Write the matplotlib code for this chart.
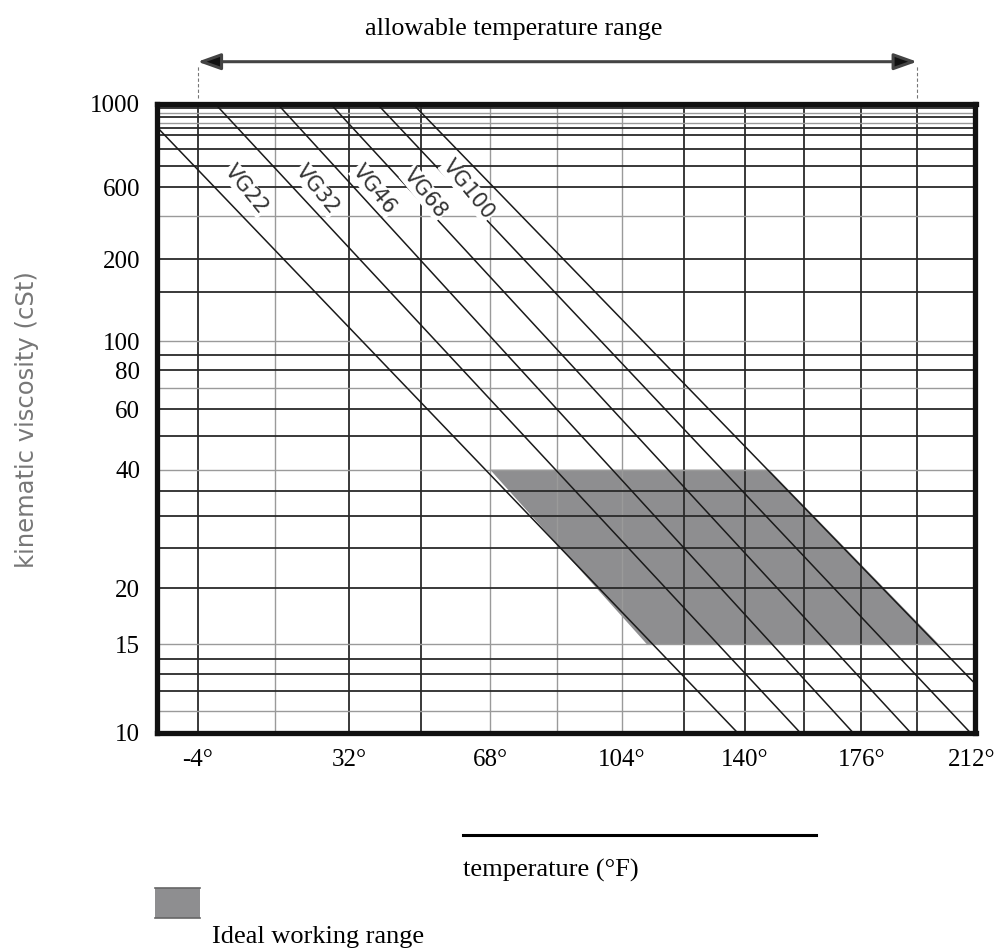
import numpy as np
import matplotlib
matplotlib.use("Agg")
import matplotlib.pyplot as plt
from matplotlib.transforms import blended_transform_factory
from matplotlib.lines import Line2D
from matplotlib.patches import Rectangle

# ---------------- data ----------------
temp_grid_c = [-20, -10, 0, 10, 20, 30, 40, 50, 60, 70, 80, 90]
temp_grid_light = [-10, 20, 30, 40]
visc_grid = [11, 12, 13, 14, 15, 20, 25, 30, 35, 40, 50, 60, 70, 80, 90, 100,
             150, 200, 300, 400, 500, 600, 700, 750, 800, 850, 900, 950]
visc_grid_light = [11, 15, 40, 70, 100, 300, 900, 800]

xtick_c = [-20, 0, 20, 40, 60, 80, 100]
xtick_labels = ["-4°", "32°", "68°", "104°", "140°", "176°", "212°"]
ytick_vals = [10, 15, 20, 40, 60, 80, 100, 200, 400, 1000]
ytick_labels = ["10", "15", "20", "40", "60", "80", "100", "200", "600", "1000"]

# viscosity lines: temperature (°C) where each line reaches 1000 cSt and 10 cSt
line_t_at_1000 = [-27.9, -17.8, -9.7, -2.6, 3.8, 8.8]
line_t_at_10 = [58.7, 69.3, 78.5, 88.8, 99.8, 109.7]

vg_names = ["VG22", "VG32", "VG46", "VG68", "VG100"]
vg_label_t = [-13.7, -4.3, 3.5, 10.6, 16.8]
vg_label_v = [390, 390, 390, 377, 390]

# ideal working range (°C, cSt)
ideal_t = [20, 64, 94, 44]
ideal_v = [40, 40, 15, 15]

allow_range_c = [-20, 90]

# ---------------- scales ----------------
def fx(t):
    return np.log10(np.clip(np.asarray(t, dtype=float) + 273.15, 1e-6, None))

def ix(u):
    return 10 ** np.asarray(u, dtype=float) - 273.15

def fy(v):
    a = np.clip(np.asarray(v, dtype=float) + 0.7, 1.0001, None)
    return np.log10(np.log10(a))

def iy(w):
    return 10 ** (10 ** np.asarray(w, dtype=float)) - 0.7

W, H = 995, 948
fig = plt.figure(figsize=(W / 100, H / 100), dpi=100)
L, R, T, B = 157, 975.5, 103.5, 732.5
ax = fig.add_axes([L / W, 1 - B / H, (R - L) / W, (B - T) / H])
ax.set_xscale("function", functions=(fx, ix))
ax.set_yscale("function", functions=(fy, iy))
ax.set_xlim(-25.1, 100.8)
ax.set_ylim(10, 1000)

serif = "Liberation Serif"

# grid
for t in temp_grid_c:
    light = t in temp_grid_light
    ax.axvline(t, color="#9a9a9a" if light else "#2a2a2a", lw=1.0 if light else 1.3, zorder=1)
for v in visc_grid:
    light = v in visc_grid_light
    ax.axhline(v, color="#9a9a9a" if light else "#2a2a2a", lw=1.0 if light else 1.3, zorder=1)

# ideal range
ax.fill(ideal_t, ideal_v, color="#8e8e90", lw=0, zorder=0.5)

# viscosity lines
for t1, t2 in zip(line_t_at_1000, line_t_at_10):
    ax.plot([t1, t2], [1000, 10], color="#1a1a1a", lw=1.1, zorder=2)

for name, t, v in zip(vg_names, vg_label_t, vg_label_v):
    ax.text(t, v, name, rotation=-51, rotation_mode="anchor", ha="center", va="center",
            fontsize=15, color="#333333", family="DejaVu Sans", zorder=3,
            bbox=dict(fc="white", ec="none", pad=0.5))

# ticks
ax.set_xticks(xtick_c, xtick_labels)
ax.set_yticks(ytick_vals, ytick_labels)
ax.minorticks_off()
ax.tick_params(length=0, labelsize=18, pad=12)
for lab in ax.get_xticklabels() + ax.get_yticklabels():
    lab.set_family(serif)
for s in ax.spines.values():
    s.set_linewidth(3.8)
    s.set_color("#111111")
    s.set_zorder(5)

# allowable temperature range arrow
trans = blended_transform_factory(ax.transData, ax.transAxes)
ya = (B - 61.7) / (B - T)
ax.annotate("", xy=(allow_range_c[1], ya), xytext=(allow_range_c[0], ya),
            xycoords=trans, textcoords=trans, annotation_clip=False,
            arrowprops=dict(arrowstyle="<|-|>,head_length=1.4,head_width=0.5",
                            ec="#444444", fc="#111111", lw=2.2, shrinkA=0, shrinkB=0))
for t in allow_range_c:
    ax.plot([t, t], [(B - 98) / (B - T), (B - 66) / (B - T)], transform=trans,
            color="#777777", lw=0.8, ls=(0, (3, 2)), clip_on=False)
fig.text(514 / W, 1 - 29 / H, "allowable temperature range", ha="center", va="center",
         family=serif, fontsize=18.8)

# y axis label
fig.text(27 / W, 1 - 420 / H, "kinematic viscosity (cSt)", rotation=90, ha="center",
         va="center", fontsize=17.5, color="#777777", family="DejaVu Sans")

# x axis label with line
fig.add_artist(Line2D([463 / W, 816 / W], [1 - 835 / H, 1 - 835 / H], color="black", lw=2.2))
fig.text(463 / W, 1 - 870 / H, "temperature (°F)", ha="left", va="center",
         family=serif, fontsize=19)

# legend
fig.add_artist(Rectangle((155 / W, 1 - 918 / H), 45 / W, 30 / H, transform=fig.transFigure,
                         fc="#8e8e90", ec="none"))
for yy in (888, 918):
    fig.add_artist(Line2D([155 / W, 200 / W], [1 - yy / H] * 2, color="#666666", lw=1.2))
fig.text(212 / W, 1 - 937 / H, "Ideal working range", ha="left", va="center",
         family=serif, fontsize=19)

fig.savefig("out.png", dpi=100)
